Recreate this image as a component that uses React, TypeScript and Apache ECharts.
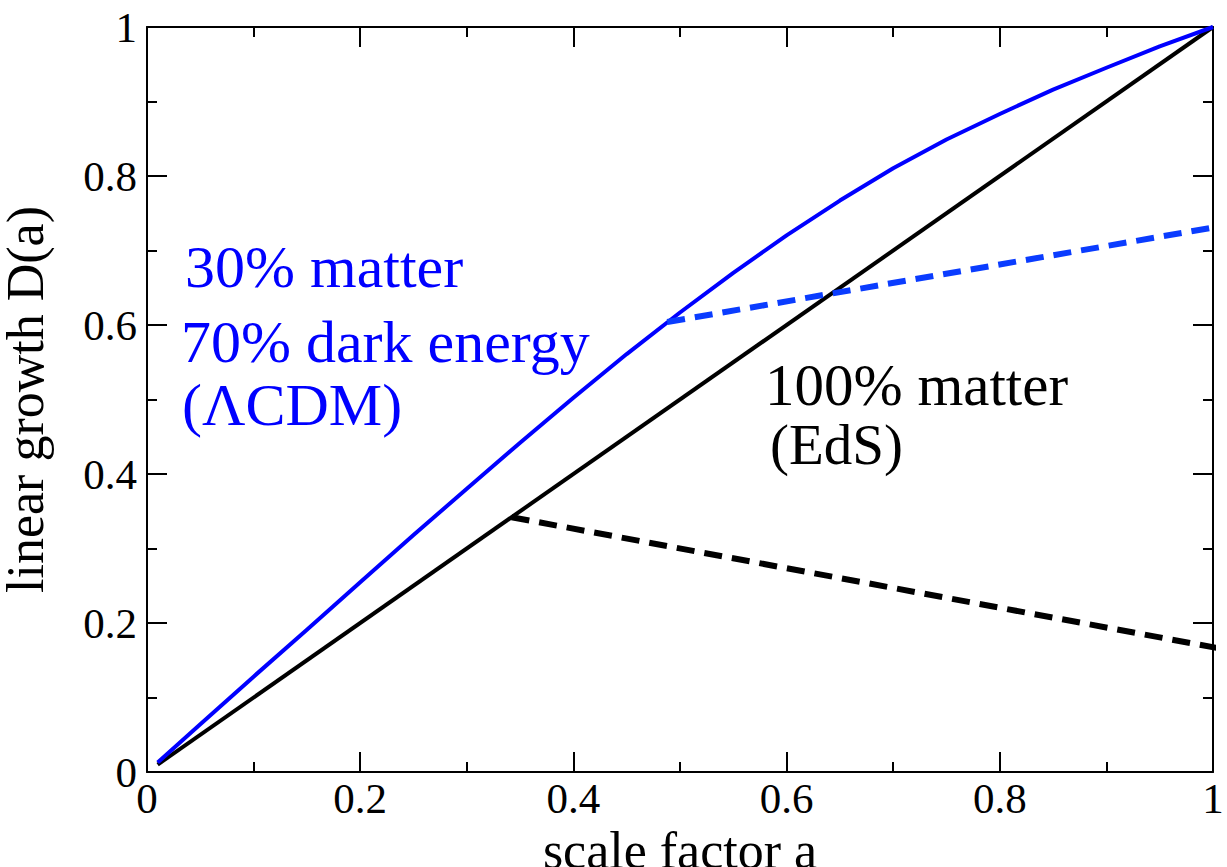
import React, { useEffect, useRef } from "react";
import * as echarts from "echarts";

// Scale factor samples and the normalised linear growth factor D(a) for ΛCDM
const scaleFactor = [
  0.01, 0.05, 0.1, 0.15, 0.2, 0.25, 0.3, 0.35, 0.4, 0.45, 0.5, 0.55, 0.6,
  0.65, 0.7, 0.75, 0.8, 0.85, 0.9, 0.95, 1.0,
];
const growthLCDM = [
  0.0128, 0.064, 0.128, 0.191, 0.2548, 0.318, 0.3803, 0.442, 0.5023, 0.561,
  0.6168, 0.67, 0.7203, 0.767, 0.8103, 0.849, 0.8833, 0.916, 0.9453, 0.974,
  1.0,
];

// Einstein–de Sitter: D(a) grows linearly with a
const edsScale = [0.01, 1.0];
const edsGrowth = [0.01, 1.0];

// Dashed branches
const lcdmBranchScale = [0.488, 1.013];
const lcdmBranchGrowth = [0.604, 0.734];
const edsBranchScale = [0.342, 1.013];
const edsBranchGrowth = [0.342, 0.164];

const FONT = "Liberation Serif";
const BLUE = "#0000ff";
const BLUE_DASH = "#0a3cff";

const pairs = (xs: number[], ys: number[]) => xs.map((x, i) => [x, ys[i]]);

const axisCommon = {
  min: 0,
  max: 1,
  interval: 0.2,
  axisLine: { show: true, onZero: false, lineStyle: { color: "#000", width: 2 } },
  axisTick: { show: true, inside: true, length: 20, lineStyle: { color: "#000", width: 2 } },
  minorTick: { show: true, splitNumber: 2, length: 10, lineStyle: { color: "#000", width: 2 } },
  splitLine: { show: false },
  minorSplitLine: { show: false },
};

const labelStyle = { color: "#000", fontFamily: FONT, fontSize: 43 };

export default function App() {
  const ref = useRef<HTMLDivElement>(null);

  useEffect(() => {
    if (!ref.current) return;
    const chart = echarts.init(ref.current, null, { renderer: "svg" });
    chart.setOption({
      animation: false,
      backgroundColor: "#fff",
      grid: { left: 147, right: 14, top: 27, bottom: 95, containLabel: false, outerBoundsMode: "none" },
      xAxis: [
        {
          ...axisCommon,
          type: "value",
          position: "bottom",
          name: "scale factor a",
          nameLocation: "middle",
          nameGap: 46,
          nameTextStyle: { color: "#000", fontFamily: FONT, fontSize: 52 },
          axisLabel: { ...labelStyle, margin: 5, showMinLabel: true, showMaxLabel: true },
        },
        {
          ...axisCommon,
          type: "value",
          position: "top",
          axisLabel: { show: false },
        },
      ],
      yAxis: [
        {
          ...axisCommon,
          type: "value",
          position: "left",
          name: "linear growth D(a)",
          nameLocation: "middle",
          nameGap: 96,
          nameRotate: 90,
          nameTextStyle: { color: "#000", fontFamily: FONT, fontSize: 52 },
          axisLabel: { ...labelStyle, margin: 10, showMinLabel: true, showMaxLabel: true },
        },
        {
          ...axisCommon,
          type: "value",
          position: "right",
          axisLabel: { show: false },
        },
      ],
      series: [
        {
          name: "EdS",
          type: "line",
          data: pairs(edsScale, edsGrowth),
          showSymbol: false,
          clip: false,
          lineStyle: { color: "#000", width: 4 },
          z: 2,
        },
        {
          name: "LCDM",
          type: "line",
          data: pairs(scaleFactor, growthLCDM),
          showSymbol: false,
          smooth: false,
          clip: false,
          lineStyle: { color: BLUE, width: 4, join: "round" },
          z: 3,
        },
        {
          name: "LCDM branch",
          type: "line",
          data: pairs(lcdmBranchScale, lcdmBranchGrowth),
          showSymbol: false,
          clip: false,
          lineStyle: { color: BLUE_DASH, width: 6, type: [18, 10] },
          z: 4,
        },
        {
          name: "EdS branch",
          type: "line",
          data: pairs(edsBranchScale, edsBranchGrowth),
          showSymbol: false,
          clip: false,
          lineStyle: { color: "#000", width: 6, type: [18, 10] },
          z: 4,
        },
      ],
      graphic: [
        { type: "text", x: 185, y: 267, style: { text: "30% matter", fill: BLUE, font: `60px "${FONT}"`, verticalAlign: "middle" } },
        { type: "text", x: 181, y: 342, style: { text: "70% dark energy", fill: BLUE, font: `60px "${FONT}"`, verticalAlign: "middle" } },
        { type: "text", x: 182, y: 405, style: { text: "(ΛCDM)", fill: BLUE, font: `60px "${FONT}"`, verticalAlign: "middle" } },
        { type: "text", x: 765, y: 385, style: { text: "100% matter", fill: "#000", font: `59px "${FONT}"`, verticalAlign: "middle" } },
        { type: "text", x: 770, y: 444, style: { text: "(EdS)", fill: "#000", font: `57px "${FONT}"`, verticalAlign: "middle" } },
      ],
    });
    return () => chart.dispose();
  }, []);

  return (
    <div
      ref={ref}
      style={{ position: "fixed", left: 0, top: 0, width: 1227, height: 867, background: "#fff" }}
    />
  );
}
